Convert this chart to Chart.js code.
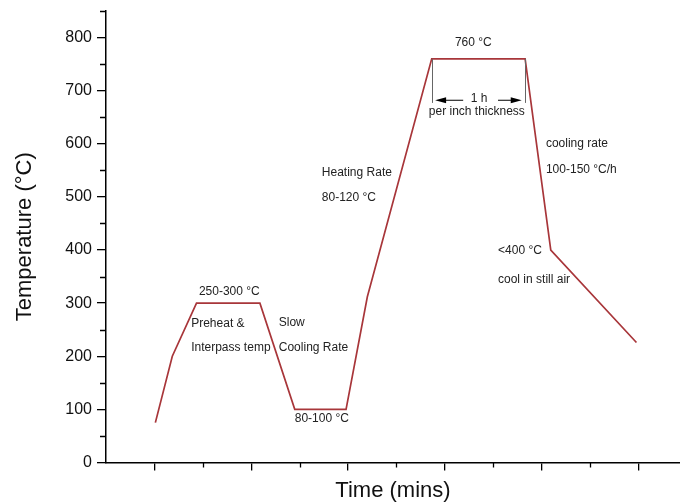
<!DOCTYPE html>
<html lang="en">

<head>
    <meta charset="UTF-8">
    <title>PWHT Temperature Cycle</title>
    <script src="https://cdn.jsdelivr.net/npm/chart.js"></script>
    <style>
        body { margin: 0; background: #fff; }
        #wrap { width: 680px; height: 504px; }
    </style>
</head>

<body>
    <div id="wrap"><canvas id="cycle-chart" width="680" height="504"></canvas></div>

    <script>
        // heat treatment cycle
        const timeValues = [1.02, 1.37, 1.87, 3.18, 3.90, 4.96, 5.40, 6.73, 8.66, 9.19, 10.96];
        const tempValues = [75, 200, 300, 300, 100, 100, 312, 760, 760, 400, 226];

        const yMajorTicks = [0, 100, 200, 300, 400, 500, 600, 700, 800];
        const yMinorTicks = [50, 150, 250, 350, 450, 550, 650, 750, 850];
        const xMajorTicks = [1, 3, 5, 7, 9, 11];
        const xMinorTicks = [2, 4, 6, 8, 10];

        // annotation texts, placed in data units
        const noteTexts = ['250-300 °C', 'Preheat &', 'Interpass temp', 'Slow', 'Cooling Rate', '80-100 °C',
            'Heating Rate', '80-120 °C', '760 °C', '1 h', 'per inch thickness', 'cooling rate',
            '100-150 °C/h', '<400 °C', 'cool in still air'];
        const noteX = [1.92, 1.76, 1.76, 3.57, 3.57, 3.90, 4.46, 4.46, 7.21, 7.71, 6.67, 9.09, 9.09, 8.10, 8.10];
        const noteY = [321, 262, 215.5, 264, 216.5, 82, 545, 498, 791, 684, 660, 600, 552, 398, 343.5];

        // "1 h" dimension marker
        const holdStart = 6.73, holdEnd = 8.66, holdTemp = 760;
        const dimBottom = 677, arrowTemp = 682;
        const arrowLeft = [6.80, 7.38], arrowRight = [8.10, 8.59];

        const FONT = '"Liberation Sans", Arial, sans-serif';

        const extras = {
            id: 'extras',
            afterDraw(chart) {
                const { ctx, scales: { x, y } } = chart;
                ctx.save();

                // minor ticks
                ctx.strokeStyle = '#000';
                ctx.lineWidth = 1.3;
                ctx.beginPath();
                xMinorTicks.forEach(v => {
                    const px = Math.round(x.getPixelForValue(v)) + 0.5;
                    ctx.moveTo(px, y.bottom);
                    ctx.lineTo(px, y.bottom + 5);
                });
                yMinorTicks.forEach(v => {
                    const py = Math.round(y.getPixelForValue(v)) + 0.5;
                    ctx.moveTo(x.left, py);
                    ctx.lineTo(x.left - 6, py);
                });
                ctx.stroke();

                // labels
                ctx.fillStyle = '#222';
                ctx.font = '12px ' + FONT;
                ctx.textBaseline = 'middle';
                noteTexts.forEach((t, i) => {
                    ctx.textAlign = t === '1 h' ? 'center' : 'left';
                    ctx.fillText(t, x.getPixelForValue(noteX[i]), y.getPixelForValue(noteY[i]));
                });

                // dimension lines
                ctx.strokeStyle = '#666';
                ctx.lineWidth = 1;
                ctx.beginPath();
                [holdStart, holdEnd].forEach(v => {
                    const px = Math.round(x.getPixelForValue(v)) + 0.5;
                    ctx.moveTo(px, y.getPixelForValue(holdTemp));
                    ctx.lineTo(px, y.getPixelForValue(dimBottom));
                });
                ctx.stroke();

                const ay = y.getPixelForValue(arrowTemp);
                ctx.strokeStyle = '#000';
                ctx.fillStyle = '#000';
                ctx.lineWidth = 1.2;
                const l0 = x.getPixelForValue(arrowLeft[0]), l1 = x.getPixelForValue(arrowLeft[1]);
                const r0 = x.getPixelForValue(arrowRight[0]), r1 = x.getPixelForValue(arrowRight[1]);
                ctx.beginPath();
                ctx.moveTo(l0 + 8, ay); ctx.lineTo(l1, ay);
                ctx.moveTo(r0, ay); ctx.lineTo(r1 - 8, ay);
                ctx.stroke();
                ctx.beginPath();
                ctx.moveTo(l0, ay); ctx.lineTo(l0 + 11, ay - 3); ctx.lineTo(l0 + 11, ay + 3); ctx.closePath();
                ctx.moveTo(r1, ay); ctx.lineTo(r1 - 11, ay - 3); ctx.lineTo(r1 - 11, ay + 3); ctx.closePath();
                ctx.fill();

                ctx.restore();
            }
        };

        new Chart(document.getElementById('cycle-chart'), {
            type: 'line',
            data: {
                datasets: [{
                    data: timeValues.map((t, i) => ({ x: t, y: tempValues[i] })),
                    borderColor: '#a8363a',
                    borderWidth: 1.7,
                    pointRadius: 0,
                    tension: 0,
                    fill: false
                }]
            },
            options: {
                responsive: false,
                animation: false,
                layout: { padding: { top: 11, right: 0, bottom: 0, left: 0 } },
                plugins: { legend: { display: false }, tooltip: { enabled: false } },
                scales: {
                    x: {
                        type: 'linear',
                        min: 0,
                        max: 11.86,
                        afterBuildTicks: s => { s.ticks = xMajorTicks.map(v => ({ value: v })); },
                        afterFit: s => { s.height = 41.5; s.paddingLeft = 0; s.paddingRight = 0; },
                        ticks: { callback: () => '', display: true },
                        grid: { drawOnChartArea: false, drawTicks: true, tickLength: 8, color: '#000', lineWidth: 1.3 },
                        border: { display: true, color: '#000', width: 1.5 },
                        title: {
                            display: true, text: 'Time (mins)', color: '#111',
                            font: { family: FONT, size: 22 }, padding: { top: 0, bottom: 0 }
                        }
                    },
                    y: {
                        min: 0,
                        max: 850,
                        afterBuildTicks: s => { s.ticks = yMajorTicks.map(v => ({ value: v })); },
                        afterFit: s => { s.width = 106; s.paddingTop = 0; s.paddingBottom = 0; },
                        ticks: { color: '#111', padding: 5, font: { family: FONT, size: 16 } },
                        grid: { drawOnChartArea: false, drawTicks: true, tickLength: 9, color: '#000', lineWidth: 1.3 },
                        border: { display: true, color: '#000', width: 1.5 },
                        title: {
                            display: true, text: 'Temperature (°C)', color: '#111',
                            font: { family: FONT, size: 22 }, padding: { top: 12, bottom: 0 }
                        }
                    }
                }
            },
            plugins: [extras]
        });
    </script>
</body>

</html>
